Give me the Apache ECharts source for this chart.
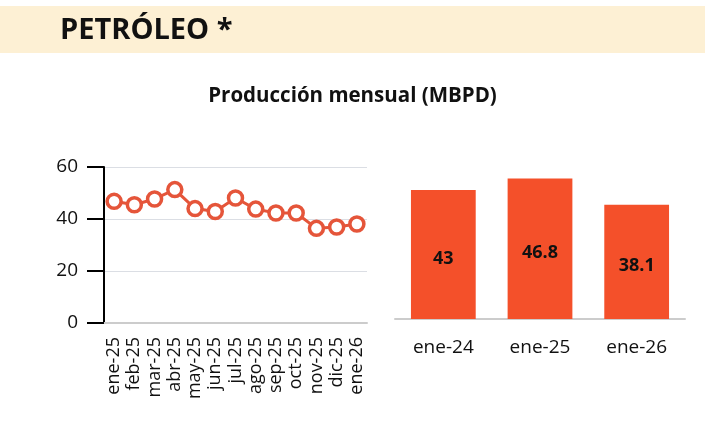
<!DOCTYPE html>
<html><head><meta charset="utf-8">
<script src="https://cdn.jsdelivr.net/npm/echarts@6/dist/echarts.min.js"></script>
<style>html,body{margin:0;padding:0;background:#fff}#c{width:705px;height:430px}</style>
</head><body><div id="c"></div>
<script>
const monthLabels = ['ene-25','feb-25','mar-25','abr-25','may-25','jun-25','jul-25','ago-25','sep-25','oct-25','nov-25','dic-25','ene-26'];
const monthValues = [46.8,45.5,47.7,51.3,44.0,42.9,48.1,43.8,42.3,42.3,36.4,36.9,38.1];
const yearLabels = ['ene-24','ene-25','ene-26'];
const yearValues = [43,46.8,38.1];
const yTicks = [0,20,40,60];

const chart = echarts.init(document.getElementById('c'), null, {renderer:'canvas'});
const font = '"Open Sans", sans-serif';
chart.setOption({
  animation:false,
  backgroundColor:'#fff',
  graphic:[
    {type:'rect', shape:{x:0,y:6,width:705,height:47}, style:{fill:'#fdf0d4'}, z:-10},
    {type:'text', x:60, y:31, style:{text:'PETRÓLEO *', font:'bold 29px "Open Sans", sans-serif', fill:'#111', verticalAlign:'middle'}}
  ],
  title:{text:'Producción mensual (MBPD)', left:'center', top:81,
    textStyle:{fontFamily:font, fontWeight:'bold', fontSize:20.5, color:'#111'}},
  grid:[
    {left:104, right:338, top:167, bottom:107, containLabel:false},
    {left:395, width:290, top:169, height:150, containLabel:false}
  ],
  xAxis:[
    {type:'category', gridIndex:0, data:monthLabels, boundaryGap:true,
      axisLine:{lineStyle:{color:'#cccccc', width:2}},
      axisTick:{alignWithLabel:true, length:11, lineStyle:{color:'#cccccc', width:2}},
      axisLabel:{rotate:90, interval:0, fontFamily:font, fontSize:18, color:'#111', margin:14}},
    {type:'category', gridIndex:1, data:yearLabels,
      axisLine:{lineStyle:{color:'#cccccc', width:2}},
      axisTick:{alignWithLabel:true, length:11, lineStyle:{color:'#cccccc', width:2}},
      axisLabel:{fontFamily:font, fontSize:19, color:'#111', margin:19}}
  ],
  yAxis:[
    {type:'value', gridIndex:0, min:yTicks[0], max:yTicks[yTicks.length-1], interval:20,
      axisLine:{show:true, lineStyle:{color:'#000', width:2}},
      axisTick:{show:true, length:17, lineStyle:{color:'#000', width:2}},
      axisLabel:{fontFamily:font, fontSize:19, color:'#111', margin:26}},
    {type:'value', gridIndex:1, min:0, max:50, show:false, splitLine:{show:false}}
  ],
  series:[
    {type:'line', xAxisIndex:0, yAxisIndex:0, data:monthValues,
      symbol:'circle', symbolSize:14,
      lineStyle:{color:'#e5553a', width:3},
      itemStyle:{color:'#ffffff', borderColor:'#e5553a', borderWidth:3.5}},
    {type:'bar', xAxisIndex:1, yAxisIndex:1, data:yearValues, barCategoryGap:'33%',
      itemStyle:{color:'#f4502a'},
      label:{show:true, position:'inside', offset:[0,4], fontFamily:font, fontWeight:'bold', fontSize:18, color:'#111'}}
  ]
});
</script></body></html>
